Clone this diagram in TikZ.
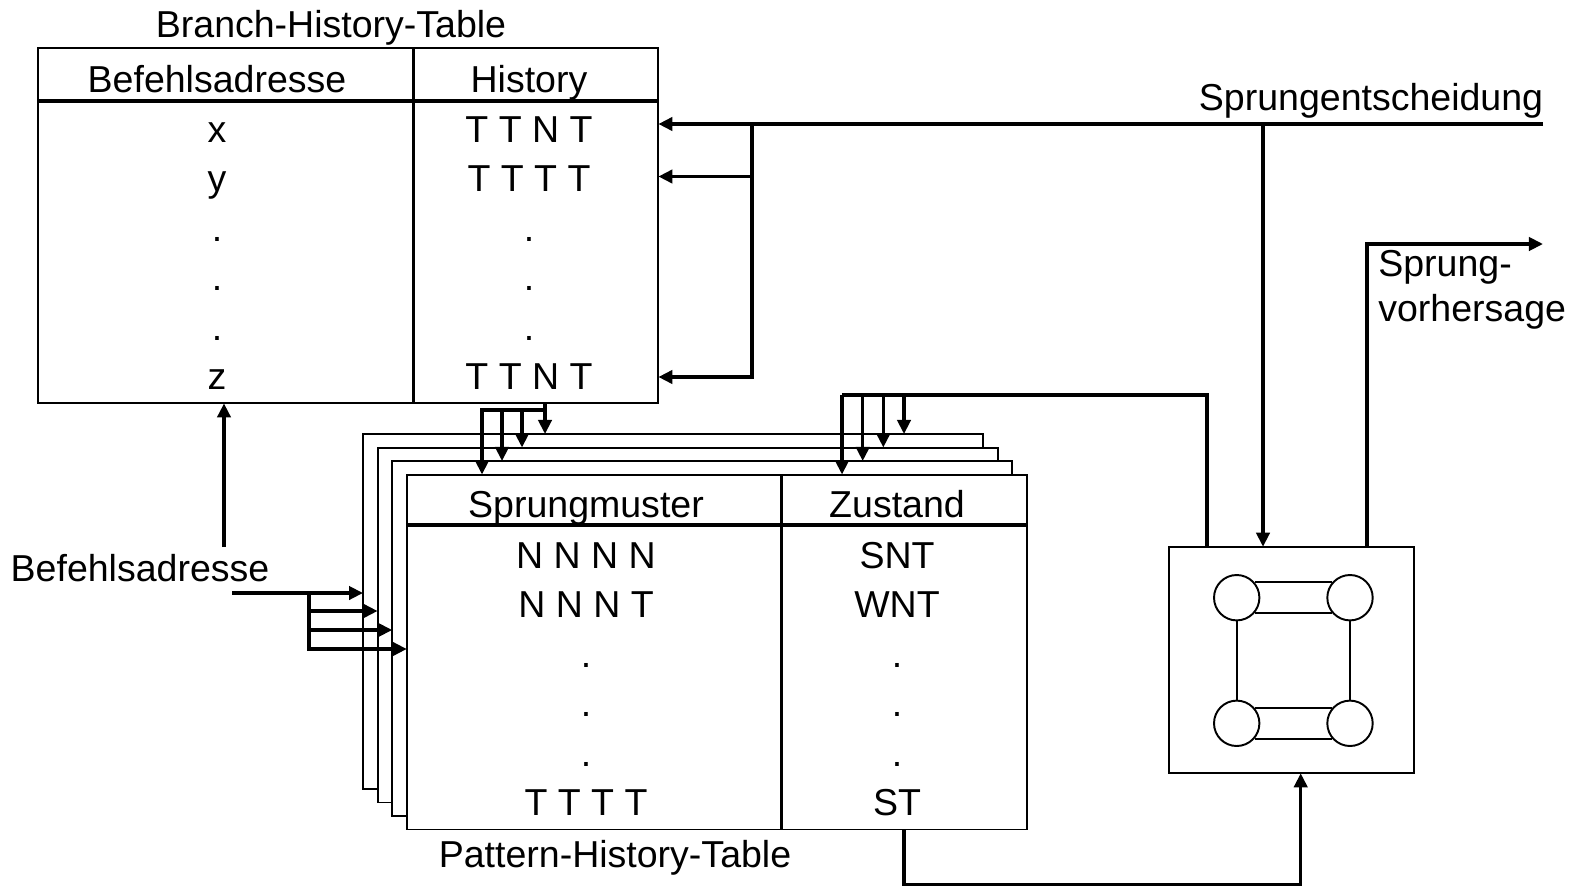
\documentclass[tikz,border=0pt]{standalone}
\usepackage{fontspec}
\setmainfont{Liberation Sans}
\usetikzlibrary{arrows.meta}

\begin{document}
\begin{tikzpicture}[x=0.02cm, y=-0.02cm, >={Triangle[length=8pt,width=7.5pt]},
    every node/.style={font=\fontsize{21.35}{25}\selectfont, inner sep=0pt},
    tbl/.style={draw, fill=white, line width=1.1pt, outer sep=0pt, minimum width=12.4cm, minimum height=7.1cm},
    rule/.style={line width=2.2pt},
    wire/.style={line width=2pt},
    arr/.style={wire, ->},
    zst/.style={circle, draw, line width=1.1pt, minimum size=0.908cm}]
    \useasboundingbox (0,0) rectangle (1581,886);

    % Branch-History-Table
    \node[tbl] (bht) at (348.4,225.9) {};
    \node[anchor=base] (bhtt) at (331,37) {Branch-History-Table};
    \draw[rule] (bht.west |- 0,100.8) -- (bht.east |- 0,100.8);
    \draw[wire] (413.4,0 |- bht.north) -- (413.4,0 |- bht.south);
    \node[anchor=base] (bhta) at (217,92) {Befehlsadresse};
    \node[anchor=base] (bhth) at (529,92) {History};
    \foreach \adr/\hst [count=\i from 0] in {x/T T N T, y/T T T T, ./., ./., ./., z/T T N T} {
        \node[anchor=base] (a\i) at (217,142+49.5*\i) {\adr};
        \node[anchor=base] (h\i) at (529,142+49.5*\i) {\hst};
    }

    % Pattern-History-Table
    \foreach \k in {0,...,3}
        \node[tbl] (p\k) at (673+14.6*\k,611.5+13.5*\k) {};
    \draw[rule] (p3.west |- 0,525.3) -- (p3.east |- 0,525.3);
    \draw[wire] (781.4,0 |- p3.north) -- (781.4,0 |- p3.south);
    \node[anchor=base] (pmu) at (586,517) {Sprungmuster};
    \node[anchor=base] (pzu) at (897,517) {Zustand};
    \foreach \mus/\zus [count=\i from 0] in {N N N N/SNT, N N N T/WNT, ./., ./., ./., T T T T/ST} {
        \node[anchor=base] (m\i) at (586,568+49.5*\i) {\mus};
        \node[anchor=base] (z\i) at (897,568+49.5*\i) {\zus};
    }
    \node[anchor=base] (phtt) at (615,867) {Pattern-History-Table};

    % Zustandsautomat
    \node[draw, line width=1.1pt, outer sep=0pt, minimum width=4.906cm, minimum height=4.53cm] (fsm) at (1291.7,660) {};
    \node[zst] (s1) at (1236.7,597.7) {};
    \node[zst] (s2) at (1350,597.7) {};
    \node[zst] (s3) at (1236.7,723.3) {};
    \node[zst] (s4) at (1350,723.3) {};
    \draw[line width=1.1pt] (s1.41) -- (s2.139) (s1.-41) -- (s2.-139);
    \draw[line width=1.1pt] (s3.41) -- (s4.139) (s3.-41) -- (s4.-139);
    \draw[line width=1.1pt] (s1.south) -- (s3.north) (s2.south) -- (s4.north);

    % Sprungentscheidung
    \coordinate (se) at (1543,124);
    \coordinate (sb) at (752,124);
    \node[anchor=base] (set) at (1371,110) {Sprungentscheidung};
    \draw[arr] (se) -- (se -| bht.east);
    \draw[arr] (sb) |- (bht.east |- 0,176.5);
    \draw[arr] (sb) |- (bht.east |- 0,377);
    \draw[arr] (1263,0 |- se) -- (1263,0 |- fsm.north);

    % Sprungvorhersage
    \coordinate (sv) at (1543,244);
    \draw[arr] (1367,0 |- fsm.north) |- (sv);
    \node[anchor=base west] (sv1) at (1378,276) {Sprung-};
    \node[anchor=base west] (sv2) at (1378,321) {vorhersage};

    % BHT -> PHT
    \draw[arr] (545,0 |- bht.south) -- (545,0 |- p0.north);
    \draw[arr] (545,410) -| (482,0 |- p3.north);
    \foreach \x/\k in {502/2, 522/1}
        \draw[arr] (\x,410) -- (\x,0 |- p\k.north);

    % Automat -> PHT
    \draw[wire] (1207,0 |- fsm.north) |- (842,395);
    \draw[arr] (842,395) -- (842,0 |- p3.north);
    \foreach \x/\k in {862.7/2, 883.3/1, 904/0}
        \draw[arr] (\x,395) -- (\x,0 |- p\k.north);

    % Zustand -> Automat
    \draw[arr] (904,0 |- p3.south) |- (1300.7,884.5) -- (1300.7,0 |- fsm.south);

    % Befehlsadresse
    \node[anchor=base] (bat) at (140,581) {Befehlsadresse};
    \coordinate (bi) at (232,593);
    \draw[arr] (bi) -- (bi -| p0.west);
    \draw[arr] (309,593) |- (p3.west |- 0,649);
    \foreach \y/\k in {611/1, 630/2}
        \draw[arr] (309,\y) -- (p\k.west |- 0,\y);
    \draw[arr] (224,547) -- (224,0 |- bht.south);
\end{tikzpicture}
\end{document}
